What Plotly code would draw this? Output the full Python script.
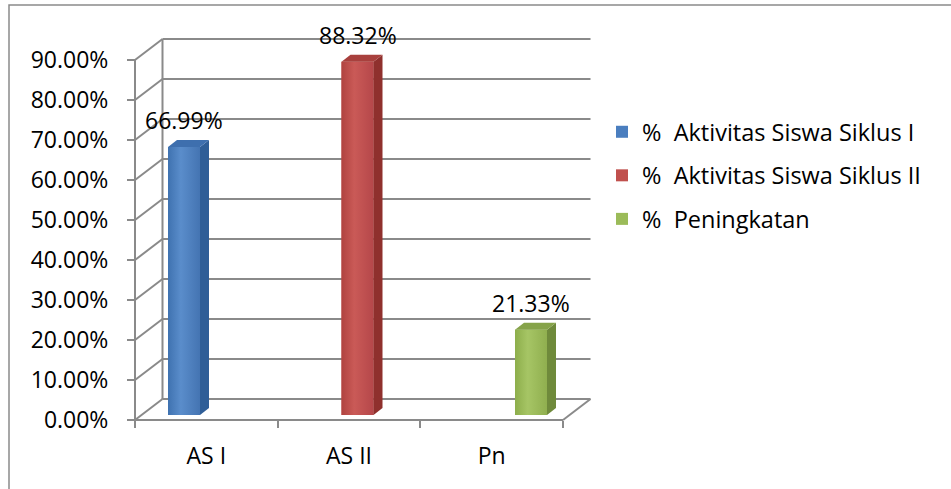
import plotly.graph_objects as go

# ---------------- data ----------------
categories = ["AS I", "AS II", "Pn"]
series_names = ["%\u00a0 Aktivitas Siswa Siklus I",
                "%\u00a0 Aktivitas Siswa Siklus II",
                "%\u00a0 Peningkatan"]
values = [0.6699, 0.8832, 0.2133]
value_labels = ["66.99%", "88.32%", "21.33%"]
y_ticks = [0.0, 0.1, 0.2, 0.3, 0.4, 0.5, 0.6, 0.7, 0.8, 0.9]

# ---------------- styles ----------------
front_colors = ["#4A7EBF", "#C0504D", "#9BBB59"]
front_grad = [["#3F72B0", "#5A8DCB", "#4474B2"],
              ["#B04340", "#CA5A57", "#B5474A"],
              ["#8DAE4B", "#A6C565", "#90AF4F"]]
side_colors = ["#2F5E97", "#8F302D", "#6F8A3B"]
top_colors = ["#3E6FAE", "#A8403D", "#86A34A"]
grid_color = "#8A8A8A"
FONT = "Open Sans"
TXT = 23

# ---------------- geometry (pixels) ----------------
W, H = 951, 489
PL, PR, PT, PB = 128, 600, 25, 428      # plot area
X0, Y0 = 135, 420                        # front origin
PX_X = 142.67                            # px per category (frame)
PX_Y = 400.0                             # px per unit (100%)
DEPTH_X, DEPTH_Y = 27.5, 21.0            # floor depth in px
BAR_STEP, BAR_C0 = 173.5, 184.0          # bar spacing / first bar center
BAR_W, BAR_DX, BAR_DY, BAR_BASE = 32.0, 9.0, 7.0, 5.0

x_range = [(PL - X0) / PX_X, (PR - X0) / PX_X]
y_range = [(Y0 - PB) / PX_Y, (Y0 - PT) / PX_Y]
x2_range = [(PL - BAR_C0) / BAR_STEP, (PR - BAR_C0) / BAR_STEP]
DX = DEPTH_X / PX_X
DY = DEPTH_Y / PX_Y
n = len(categories)


def xp(px):
    return (px - PL) / (PR - PL)


def yp(py):
    return (PB - py) / (PB - PT)


fig = go.Figure()

# ---------------- frame: walls, floor, gridlines ----------------
fx, fy = [], []
top_t = y_ticks[-1]
for t in y_ticks:
    fx += [DX, n + DX, None]; fy += [t + DY, t + DY, None]      # back wall
    fx += [0, DX, None]; fy += [t, t + DY, None]                  # side wall
fx += [DX, DX, None]; fy += [DY, top_t + DY, None]               # back-left edge
fx += [0, 0, None]; fy += [0, top_t, None]                        # front value axis
fx += [0, n, None]; fy += [0, 0, None]                            # floor front
fx += [n, n + DX, None]; fy += [0, DY, None]                      # floor right
fig.add_trace(go.Scatter(x=fx, y=fy, mode="lines",
                         line=dict(color=grid_color, width=2),
                         showlegend=False, hoverinfo="skip",
                         xaxis="x", yaxis="y"))

# ---------------- bars ----------------
bw = BAR_W / BAR_STEP
bdx = BAR_DX / BAR_STEP
bdy = BAR_DY / PX_Y
base = BAR_BASE / PX_Y
for i, (v, name) in enumerate(zip(values, series_names)):
    top = base + v
    fig.add_trace(go.Bar(x=[i], y=[v], base=[base], width=[bw],
                         marker=dict(color=front_colors[i], line=dict(width=0)),
                         name=name, legendgroup=f"g{i}",
                         xaxis="x2", yaxis="y", hoverinfo="skip"))
    # shaded front face
    g = front_grad[i]
    fig.add_trace(go.Scatter(
        x=[i - bw / 2, i + bw / 2, i + bw / 2, i - bw / 2, i - bw / 2],
        y=[base, base, top, top, base],
        fill="toself", mode="lines", line=dict(width=0, color=g[1]),
        fillgradient=dict(type="horizontal",
                          colorscale=[[0, g[0]], [0.4, g[1]], [1, g[2]]]),
        showlegend=False, hoverinfo="skip", xaxis="x2", yaxis="y"))
    # side face
    fig.add_trace(go.Scatter(
        x=[i + bw / 2, i + bw / 2, i + bw / 2 + bdx, i + bw / 2 + bdx, i + bw / 2],
        y=[base, top, top + bdy, base + bdy, base],
        fill="toself", fillcolor=side_colors[i], mode="lines",
        line=dict(width=0, color=side_colors[i]),
        showlegend=False, hoverinfo="skip", xaxis="x2", yaxis="y"))
    # top face
    fig.add_trace(go.Scatter(
        x=[i - bw / 2, i + bw / 2, i + bw / 2 + bdx, i - bw / 2 + bdx, i - bw / 2],
        y=[top, top, top + bdy, top + bdy, top],
        fill="toself", fillcolor=top_colors[i], mode="lines",
        line=dict(width=0, color=top_colors[i]),
        showlegend=False, hoverinfo="skip", xaxis="x2", yaxis="y"))
    fig.add_annotation(x=i, y=top + bdy, xref="x2", yref="y",
                       text=value_labels[i], showarrow=False,
                       yanchor="bottom", yshift=2,
                       font=dict(family=FONT, size=TXT, color="black"))

# ---------------- outer frame ----------------
fig.add_shape(type="path", xref="paper", yref="paper",
              path=f"M {xp(9)} {yp(500)} L {xp(9)} {yp(5)} L {xp(960)} {yp(5)}",
              line=dict(color="#8A8A8A", width=1.5))

fig.update_layout(
    width=W, height=H,
    margin=dict(l=PL, r=W - PR, t=PT, b=H - PB, pad=0),
    paper_bgcolor="white", plot_bgcolor="rgba(0,0,0,0)",
    font=dict(family=FONT, size=TXT, color="black"),
    barmode="overlay",
    showlegend=True,
    legend=dict(x=xp(602), y=yp(110), xanchor="left", yanchor="top",
                font=dict(family=FONT, size=23.5, color="black"),
                traceorder="grouped", tracegroupgap=10,
                bgcolor="rgba(0,0,0,0)", borderwidth=0),
    xaxis=dict(range=x_range, anchor="free", position=yp(Y0),
               showgrid=False, zeroline=False, showline=False,
               tickmode="array",
               tickvals=[k + 0.5 for k in range(n)], ticktext=categories,
               ticks="outside", ticklen=0, ticklabelstandoff=15,
               minor=dict(tickmode="array", tickvals=list(range(n + 1)),
                          ticks="outside", ticklen=7, tickcolor=grid_color,
                          tickwidth=2, showgrid=False),
               tickfont=dict(family=FONT, size=TXT, color="black"),
               fixedrange=True),
    xaxis2=dict(range=x2_range, overlaying="x", visible=False,
                showgrid=False, zeroline=False, fixedrange=True),
    yaxis=dict(range=y_range, anchor="free", position=xp(X0),
               showgrid=False, zeroline=False, showline=False,
               tickmode="array", tickvals=y_ticks, tickformat=".2%",
               ticks="outside", ticklen=8, tickcolor=grid_color, tickwidth=2,
               ticklabelstandoff=14,
               tickfont=dict(family=FONT, size=TXT, color="black"),
               fixedrange=True),
)

fig.write_html("out.html")
